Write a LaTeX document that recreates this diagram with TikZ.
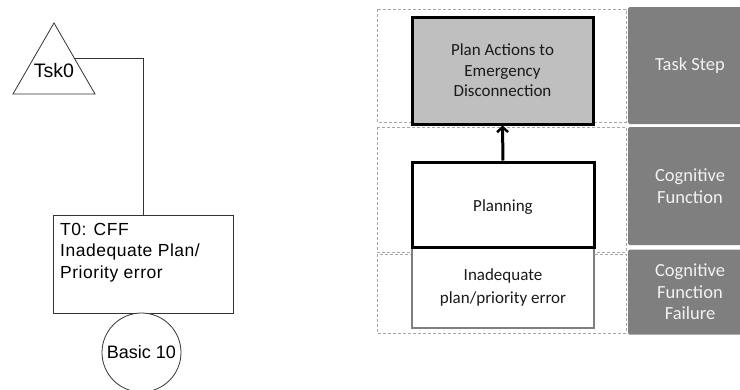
\documentclass[tikz,border=0pt]{standalone}
\usepackage{fontspec}
\setmainfont{Liberation Sans}
\newfontfamily\calibri{Carlito}
\usetikzlibrary{arrows.meta,shapes.geometric,calc}

\definecolor{panelgray}{HTML}{7F7F7F}
\definecolor{stepfill}{HTML}{BFBFBF}
\definecolor{framegray}{HTML}{A6A6A6}
\definecolor{inktext}{HTML}{1A1A1A}
\definecolor{paneltext}{HTML}{F2F2F2}

\tikzset{
  treeline/.style={draw=black!80, line width=0.8pt},
  treefont/.style={font=\fontsize{18}{21.5}\selectfont},
  rowframe/.style={draw=framegray, dashed, dash pattern=on 3pt off 2pt, line width=0.8pt},
  panel/.style={fill=panelgray, draw=none, rounded corners=1.5pt, text=paneltext,
    align=center, font=\calibri\fontsize{18.5}{21.5}\selectfont, inner sep=0pt},
  boldbox/.style={draw=black, line width=3pt, align=center, text=inktext,
    font=\calibri\fontsize{17}{20.5}\selectfont, inner sep=0pt},
  thinbox/.style={draw=panelgray, line width=1.6pt, fill=white, align=center, text=inktext,
    font=\calibri\fontsize{17}{23}\selectfont, inner sep=0pt},
}

\begin{document}
\begin{tikzpicture}[x=1pt, y=-1pt]
  \useasboundingbox (0,0) rectangle (740,389);
  \clip (0,0) rectangle (740,389);

  % ---------- fault tree ----------
  \node[treeline, regular polygon, regular polygon sides=3, minimum size=94.7pt,
        inner sep=0pt] (tsk) at (54,70.3) {};
  \node[inner sep=0pt, font=\fontsize{19.5}{22}\selectfont] (tsklabel) at (54,70.5) {Tsk0};

  \node[treeline, rectangle, minimum width=180pt, minimum height=98pt, inner sep=0pt]
        (t0) at (143,264) {};
  \node[anchor=north west, align=left, inner sep=0pt,
        font=\addfontfeature{LetterSpace=3}\fontsize{17.5}{21.5}\selectfont]
        (t0text) at (60,223) {T0: CFF\\Inadequate Plan/\\Priority error};

  \node[treeline, circle, minimum size=79pt, inner sep=0pt, fill=white, treefont]
        (basic) at (141.5,352.5) {Basic 10};

  \coordinate (tskside) at ($(tsk.corner 1)!0.5!(tsk.corner 3)$);
  \draw[treeline] (tskside) -| (t0.north);

  % ---------- layered view: row frames ----------
  \draw[rowframe] (377,9) rectangle (626,122);
  \draw[rowframe] (377,127) rectangle (626,252);
  \draw[rowframe] (377,254) rectangle (626,333);

  % ---------- row labels ----------
  \node[panel, minimum width=124pt, minimum height=117pt] (lblstep) at (690,65.5) {Task Step};
  \node[panel, minimum width=124pt, minimum height=118pt] (lblcf) at (690,186) {Cognitive\\Function};
  \node[panel, minimum width=124pt, minimum height=85pt] (lblcff) at (690,292) {Cognitive\\Function\\Failure};

  % ---------- boxes ----------
  \node[thinbox, minimum width=182pt, minimum height=81pt] (failure) at (503,287.5)
        {Inadequate\\plan/priority error};
  \node[boldbox, fill=stepfill, minimum width=181pt, minimum height=107pt] (step) at (502.5,70.5)
        {Plan Actions to\\Emergency\\Disconnection};
  \node[boldbox, fill=white, minimum width=182pt, minimum height=85pt, text height=17pt]
        (planning) at (503,204.5) {Planning};

  \draw[line width=3pt, -{Straight Barb[length=5pt, width=11pt, line width=2.4pt]}]
        (planning.north) -- (step.south);
\end{tikzpicture}
\end{document}
